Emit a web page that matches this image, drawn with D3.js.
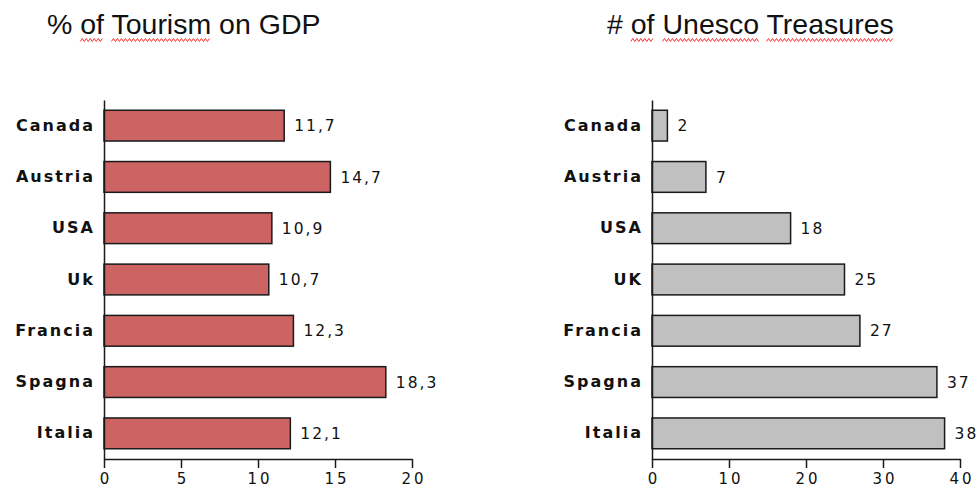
<!DOCTYPE html>
<html lang="en">
<head>
  <meta charset="UTF-8">
  <title>Tourism and Unesco</title>
  <style>
    body, html {
      margin: 0;
      padding: 0;
      background: #fff;
    }
  </style>
</head>
<body>
  <svg id="svg" width="980" height="488"></svg>

  <script src="https://cdn.jsdelivr.net/npm/d3@7"></script>
  <script>
    const countries = ['Canada', 'Austria', 'USA', 'Uk', 'Francia', 'Spagna', 'Italia'];
    const countriesRight = ['Canada', 'Austria', 'USA', 'UK', 'Francia', 'Spagna', 'Italia'];
    const tourismGdp = [11.7, 14.7, 10.9, 10.7, 12.3, 18.3, 12.1];
    const unescoSites = [2, 7, 18, 25, 27, 37, 38];
    const tourismTicks = [0, 5, 10, 15, 20];
    const unescoTicks = [0, 10, 20, 30, 40];

    const svg = d3.select('#svg');
    const fmt = v => String(v).replace('.', ',');

    function drawChart(opts) {
      const x = d3.scaleLinear()
        .domain([0, opts.ticks[opts.ticks.length - 1]])
        .range([opts.left, opts.right]);

      const y = d3.scaleBand()
        .domain(opts.labels)
        .range([100, 459])
        .paddingInner(0.4)
        .paddingOuter(0.2);

      const g = svg.append('g');

      g.selectAll('.bar')
        .data(opts.values)
        .enter()
        .append('rect')
        .attr('x', x(0))
        .attr('y', (d, i) => y(opts.labels[i]))
        .attr('width', d => x(d) - x(0))
        .attr('height', y.bandwidth())
        .attr('fill', opts.color)
        .attr('stroke', '#1a1a1a')
        .attr('stroke-width', 1.5);

      g.selectAll('.val')
        .data(opts.values)
        .enter()
        .append('text')
        .attr('x', d => x(d) + 10)
        .attr('y', (d, i) => y(opts.labels[i]) + y.bandwidth() / 2)
        .attr('dy', '0.36em')
        .style('font-family', 'DejaVu Sans')
        .style('font-size', '15.5px')
        .style('letter-spacing', '2px')
        .attr('fill', '#111')
        .text(fmt);

      const xAxis = g.append('g')
        .attr('transform', `translate(0,${y.range()[1]})`)
        .call(d3.axisBottom(x).tickValues(opts.ticks).tickSizeInner(9).tickSizeOuter(0).tickPadding(5));
      xAxis.selectAll('path, line').attr('stroke', '#1a1a1a').attr('stroke-width', 1.5);
      xAxis.selectAll('text')
        .style('font-family', 'DejaVu Sans')
        .style('font-size', '15px')
        .style('letter-spacing', '3px')
        .attr('dx', '1.5px')
        .attr('fill', '#111');

      const yAxis = g.append('g')
        .attr('transform', `translate(${x(0)},0)`)
        .call(d3.axisLeft(y).tickSize(0).tickPadding(9));
      yAxis.selectAll('path').attr('stroke', '#1a1a1a').attr('stroke-width', 1.5);
      yAxis.selectAll('text')
        .style('font-family', 'DejaVu Sans')
        .style('font-size', '16px')
        .style('font-weight', 'bold')
        .style('letter-spacing', '2px')
        .attr('fill', '#111');

      // title with spell-check squiggles under some words
      const title = svg.append('text')
        .attr('x', opts.titleX)
        .attr('y', 34)
        .style('font-family', 'Liberation Sans, Arial, sans-serif')
        .style('font-size', '28.5px')
        .attr('fill', '#111')
        .text(opts.title);

      const node = title.node();
      opts.squiggle.forEach(word => {
        const start = opts.title.indexOf(word);
        const sx = opts.titleX + node.getSubStringLength(0, start);
        const w = node.getSubStringLength(start, word.length);
        const pts = d3.range(0, Math.floor(w / 2) + 1).map(k => [sx + k * 2, 40 + (k % 2 ? -1.5 : 1.5)]);
        svg.append('path')
          .attr('d', d3.line()(pts))
          .attr('fill', 'none')
          .attr('stroke', '#ff3030')
          .attr('stroke-width', 1);
      });
    }

    drawChart({
      labels: countries, values: tourismGdp, ticks: tourismTicks,
      left: 104, right: 412, color: '#cd6464',
      title: '% of Tourism on GDP', titleX: 47, squiggle: ['of', 'Tourism']
    });

    drawChart({
      labels: countriesRight, values: unescoSites, ticks: unescoTicks,
      left: 652, right: 960, color: '#c0c0c0',
      title: '# of Unesco Treasures', titleX: 607, squiggle: ['of', 'Unesco', 'Treasures']
    });
  </script>
</body>
</html>
